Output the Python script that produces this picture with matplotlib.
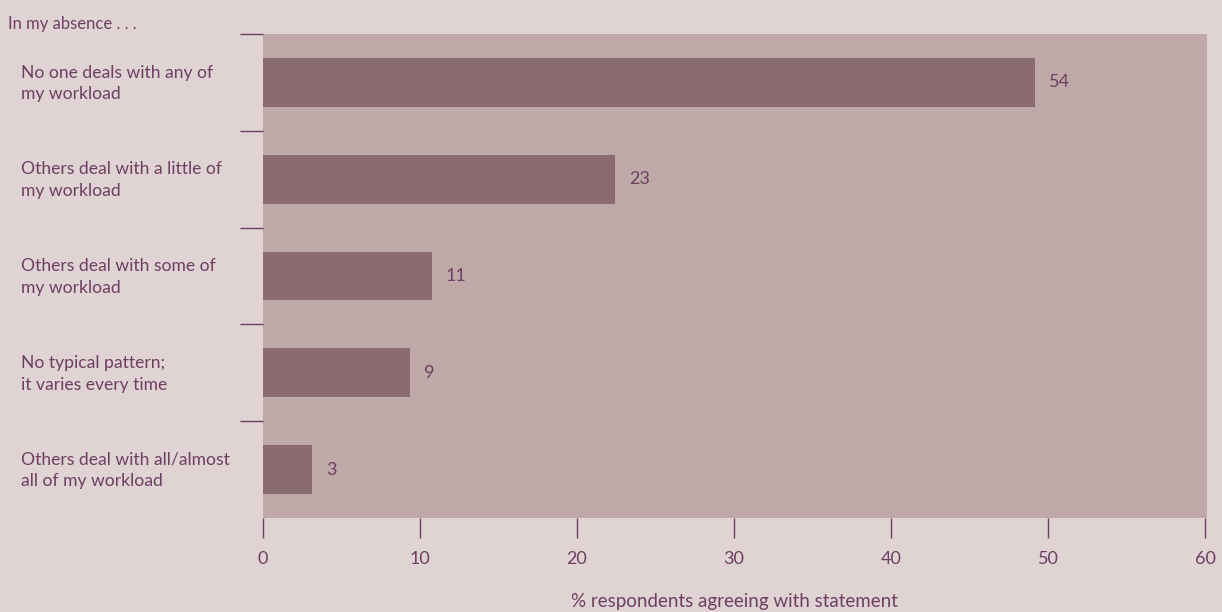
import matplotlib
matplotlib.use("Agg")
import matplotlib.pyplot as plt
from matplotlib.ticker import FixedLocator

categories = [
    "No one deals with any of\nmy workload",
    "Others deal with a little of\nmy workload",
    "Others deal with some of\nmy workload",
    "No typical pattern;\nit varies every time",
    "Others deal with all/almost\nall of my workload",
]
bar_lengths = [49.2, 22.45, 10.76, 9.36, 3.12]
value_labels = ["54", "23", "11", "9", "3"]
x_ticks = [0, 10, 20, 30, 40, 50, 60]
header = "In my absence . . ."
xlabel = "% respondents agreeing with statement"

FIG_BG = "#dfd3d4"
AX_BG = "#bea9a8"
BAR = "#8b6b72"
TXT = "#6e3f61"

plt.rcParams['font.family'] = ['Lato', 'DejaVu Sans']

W, H = 1222, 612
fig = plt.figure(figsize=(W / 100, H / 100), dpi=100, facecolor=FIG_BG)
ax = fig.add_axes([263 / W, 1 - 518 / H, (1207 - 263) / W, (518 - 34) / H])
ax.set_facecolor(AX_BG)

y = list(range(len(categories)))
ax.barh(y, bar_lengths, height=0.505, color=BAR, zorder=2)
ax.set_xlim(0, 60.13)
ax.set_ylim(len(categories) - 0.5, -0.5)

for spine in ax.spines.values():
    spine.set_visible(False)

ax.set_xticks(x_ticks)
ax.set_xticklabels([str(t) for t in x_ticks], fontsize=13, color=TXT)
ax.tick_params(axis='x', direction='out', length=14.5, width=1.0, color=TXT, pad=9)

sep = [i - 0.5 for i in range(len(categories))]
ax.yaxis.set_major_locator(FixedLocator(sep))
ax.set_yticklabels([])
ax.tick_params(axis='y', direction='out', length=16.5, width=1.0, color=TXT)

for i, (v, lab) in enumerate(zip(bar_lengths, value_labels)):
    ax.annotate(lab, xy=(v, i), xytext=(10, 0), textcoords='offset points',
                ha='left', va='center', fontsize=13, color=TXT)

for i, cat in enumerate(categories):
    ax.annotate(cat, xy=(0, i), xycoords=('figure pixels', 'data'),
                xytext=(21, -1), textcoords='offset pixels',
                ha='left', va='center', fontsize=12.6, color=TXT,
                linespacing=1.42)

fig.text(8 / W, 1 - 24 / H, header, ha='left', va='center', fontsize=12,
         color=TXT)
fig.text(734 / W, 1 - 602 / H, xlabel, ha='center', va='center', fontsize=13.5,
         color=TXT)

fig.savefig("out.png", dpi=100, facecolor=FIG_BG)
